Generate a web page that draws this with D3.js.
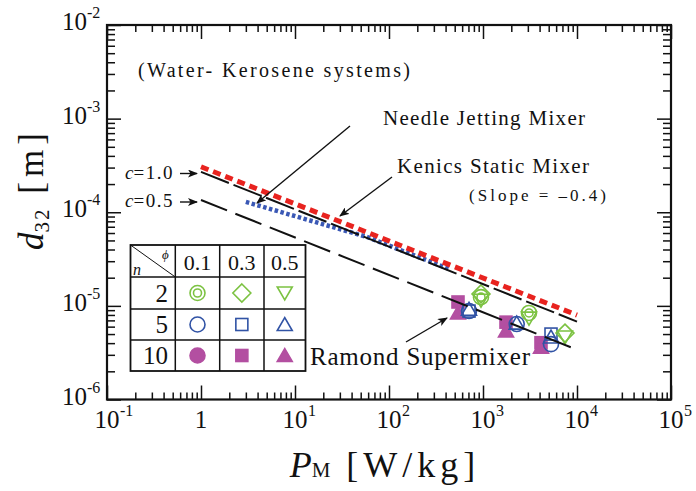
<!DOCTYPE html>
<html>
<head>
<meta charset="utf-8">
<script src="https://cdn.jsdelivr.net/npm/d3@7"></script>
<style>
  body { margin: 0; background: #fff; }
  svg text { font-family: "Liberation Serif", "Times New Roman", serif; fill: #111; }
</style>
</head>
<body>
<svg id="chart"></svg>
<script>
// ---- data ----
const nValues = [2, 5, 10];
const phiValues = ["0.1", "0.3", "0.5"];

// power input of each of the three runs, per number of elements n [W/kg]
const pN2 = [952, 3086, 7450];
const pN5 = [710, 2284, 5290];
const pN10 = [542, 1757, 4140];

// Sauter mean diameter d32 [m] for each run (null = hidden under other marks)
const dN2Phi01 = [1.24e-5, 8.4e-6, null];
const dN2Phi03 = [1.34e-5, null, 5.12e-6];
const dN2Phi05 = [1.15e-5, 7.4e-6, 4.65e-6];
const dN5Phi01 = [8.8e-6, 6.4e-6, 3.9e-6];
const dN5Phi03 = [8.8e-6, null, 5.0e-6];
const dN5Phi05 = [9.2e-6, 6.55e-6, 4.65e-6];
const dN10Phi01 = [null, null, null];
const dN10Phi03 = [1.10e-5, 6.7e-6, 4.04e-6];
const dN10Phi05 = [8.4e-6, 5.4e-6, 3.63e-6];

// correlation lines (slope -0.4)
const lineC10 = [[1, 2.7e-4], [1e4, 6.8e-6]];
const lineC05 = [[1, 1.35e-4], [1e4, 3.4e-6]];
const lineNeedle = [[1, 3.06e-4], [1e4, 7.98e-6]];
const lineKenics = [[3, 1.29e-4], [57.5, 5.47e-5], [450, 2.45e-5]];

// axis ticks
const xMajor = [0.1, 1, 10, 100, 1e3, 1e4, 1e5];
const xLabels = ["-1", "", "1", "2", "3", "4", "5"];
const yMajor = [1e-6, 1e-5, 1e-4, 1e-3, 1e-2];
const yLabels = ["-6", "-5", "-4", "-3", "-2"];

// ---- setup ----
const W = 696, H = 491;
const plot = { left: 107, right: 671, top: 25, bottom: 399.5 };
const colGreen = "#7cc242", colBlue = "#3153a5", colMag = "#b34fa1";

const svg = d3.select("#chart").attr("width", W).attr("height", H);

const x = d3.scaleLog().domain([0.1, 1e5]).range([plot.left, plot.right]);
const y = d3.scaleLog().domain([1e-6, 1e-2]).range([plot.bottom, plot.top]);

function minorTicks(major) {
    let out = [];
    for (let i = 0; i < major.length - 1; i++)
        for (let m = 2; m <= 9; m++) out.push(major[i] * m);
    return out;
}
const xMinor = minorTicks(xMajor), yMinor = minorTicks(yMajor);

// ---- ticks on all four sides, pointing inward ----
function addAxis(axisFn, scale, vals, len, transform) {
    const g = svg.append("g").attr("transform", transform)
        .call(axisFn(scale).tickValues(vals).tickSizeInner(len).tickSizeOuter(0).tickFormat(""));
    g.select(".domain").remove();
    g.selectAll("line").attr("stroke", "#111").attr("stroke-width", 1.5);
}
[[xMinor, -7], [xMajor, -14]].forEach(([v, l]) => {
    addAxis(d3.axisBottom, x, v, l, `translate(0,${plot.bottom})`);
    addAxis(d3.axisTop, x, v, l, `translate(0,${plot.top})`);
});
[[yMinor, -8], [yMajor, -14]].forEach(([v, l]) => {
    addAxis(d3.axisLeft, y, v, l, `translate(${plot.left},0)`);
    addAxis(d3.axisRight, y, v, l, `translate(${plot.right},0)`);
});

svg.append("rect")
    .attr("x", plot.left).attr("y", plot.top)
    .attr("width", plot.right - plot.left).attr("height", plot.bottom - plot.top)
    .attr("fill", "none").attr("stroke", "#111").attr("stroke-width", 2.2);

// tick labels
xMajor.forEach((v, i) => {
    svg.append("text").attr("x", x(v)).attr("y", 428)
        .attr("text-anchor", "middle").attr("font-size", 25)
        .text(xLabels[i] === "" ? "1" : "10");
    if (xLabels[i] !== "")
        svg.append("text").attr("x", x(v) + 13).attr("y", 416)
            .attr("font-size", 16).text(xLabels[i]);
});
yMajor.forEach((v, i) => {
    svg.append("text").attr("x", 87).attr("y", y(v) + 5)
        .attr("text-anchor", "end").attr("font-size", 25).text("10");
    svg.append("text").attr("x", 87).attr("y", y(v) - 7)
        .attr("font-size", 16).text(yLabels[i]);
});

// axis titles
const yt = svg.append("text").attr("transform", "translate(43,189) rotate(-90)")
    .attr("text-anchor", "middle").attr("font-size", 35);
yt.append("tspan").attr("font-style", "italic").text("d");
yt.append("tspan").attr("font-size", 21).attr("dy", 6).attr("letter-spacing", 2).text("32");
yt.append("tspan").attr("dy", -6).attr("letter-spacing", 5).text(" [m]");

const xt = svg.append("text").attr("x", 385).attr("y", 477)
    .attr("text-anchor", "middle").attr("font-size", 36);
xt.append("tspan").attr("font-style", "italic").text("P");
xt.append("tspan").attr("font-size", 21).attr("letter-spacing", 2).text("M");
xt.append("tspan").attr("letter-spacing", 5).text(" [W/kg]");

// ---- markers ----
function drawMarker(g, shape, cx, cy) {
    const sw = 1.6;
    if (shape === "dcircle") {
        g.append("circle").attr("cx", cx).attr("cy", cy).attr("r", 7.5)
            .attr("fill", "none").attr("stroke", colGreen).attr("stroke-width", sw);
        g.append("circle").attr("cx", cx).attr("cy", cy).attr("r", 4)
            .attr("fill", "none").attr("stroke", colGreen).attr("stroke-width", sw);
    } else if (shape === "diamond") {
        g.append("path").attr("d", `M${cx},${cy - 9}L${cx + 9},${cy}L${cx},${cy + 9}L${cx - 9},${cy}Z`)
            .attr("fill", "none").attr("stroke", colGreen).attr("stroke-width", sw);
    } else if (shape === "tdown") {
        g.append("path").attr("d", `M${cx - 7.5},${cy - 6}L${cx + 7.5},${cy - 6}L${cx},${cy + 7}Z`)
            .attr("fill", "none").attr("stroke", colGreen).attr("stroke-width", sw);
    } else if (shape === "circle" || shape === "fcircle") {
        const c = shape === "circle" ? colBlue : colMag;
        g.append("circle").attr("cx", cx).attr("cy", cy).attr("r", 7.5)
            .attr("fill", shape === "circle" ? "none" : c).attr("stroke", c).attr("stroke-width", sw);
    } else if (shape === "square" || shape === "fsquare") {
        const c = shape === "square" ? colBlue : colMag;
        g.append("rect").attr("x", cx - 6).attr("y", cy - 6).attr("width", 12).attr("height", 12)
            .attr("fill", shape === "square" ? "none" : c).attr("stroke", c).attr("stroke-width", sw);
    } else {
        const c = shape === "tup" ? colBlue : colMag;
        g.append("path").attr("d", `M${cx - 7.5},${cy + 6}L${cx + 7.5},${cy + 6}L${cx},${cy - 7}Z`)
            .attr("fill", shape === "tup" ? "none" : c).attr("stroke", c).attr("stroke-width", sw);
    }
}

const shapes = [["dcircle", "diamond", "tdown"], ["circle", "square", "tup"], ["fcircle", "fsquare", "ftri"]];
const pByN = [pN2, pN5, pN10];
const dByN = [[dN2Phi01, dN2Phi03, dN2Phi05], [dN5Phi01, dN5Phi03, dN5Phi05], [dN10Phi01, dN10Phi03, dN10Phi05]];

const pts = svg.append("g");
[2, 1, 0].forEach(ni => {
    dByN[ni].forEach((ds, pi) => {
        ds.forEach((d, k) => {
            if (d !== null) drawMarker(pts, shapes[ni][pi], x(pByN[ni][k]), y(d));
        });
    });
});

// ---- lines ----
const line = d3.line().x(d => x(d[0])).y(d => y(d[1]));
svg.append("path").datum(lineKenics).attr("d", line)
    .attr("fill", "none").attr("stroke", "#3a58b5").attr("stroke-width", 4.5).attr("stroke-dasharray", "3.5,2.5");
svg.append("path").datum(lineNeedle).attr("d", line)
    .attr("fill", "none").attr("stroke", "#e8231f").attr("stroke-width", 5).attr("stroke-dasharray", "8,5");
svg.append("path").datum(lineC10).attr("d", line)
    .attr("fill", "none").attr("stroke", "#111").attr("stroke-width", 2).attr("stroke-dasharray", "30,5");
svg.append("path").datum(lineC05).attr("d", line)
    .attr("fill", "none").attr("stroke", "#111").attr("stroke-width", 2).attr("stroke-dasharray", "28,9");

// ---- legend table ----
const tbl = { left: 130.5, top: 245, colX: [130.5, 175.3, 219.7, 264, 305.5], rowY: [245, 277, 309, 340, 371] };
const lg = svg.append("g");
lg.append("rect").attr("x", tbl.left).attr("y", tbl.top)
    .attr("width", tbl.colX[4] - tbl.left).attr("height", tbl.rowY[4] - tbl.top)
    .attr("fill", "#fff").attr("stroke", "#111").attr("stroke-width", 1.8);
tbl.colX.slice(1, 4).forEach(cx => lg.append("line").attr("x1", cx).attr("x2", cx)
    .attr("y1", tbl.top).attr("y2", tbl.rowY[4]).attr("stroke", "#111").attr("stroke-width", 1.5));
tbl.rowY.slice(1, 4).forEach(ry => lg.append("line").attr("y1", ry).attr("y2", ry)
    .attr("x1", tbl.left).attr("x2", tbl.colX[4]).attr("stroke", "#111").attr("stroke-width", 1.5));
lg.append("line").attr("x1", tbl.left).attr("y1", tbl.top).attr("x2", tbl.colX[1]).attr("y2", tbl.rowY[1])
    .attr("stroke", "#111").attr("stroke-width", 1);
lg.append("text").attr("x", 162).attr("y", 259).attr("font-size", 13).attr("font-style", "italic").text("ϕ");
lg.append("text").attr("x", 133).attr("y", 275).attr("font-size", 16).attr("font-style", "italic").text("n");

phiValues.forEach((p, j) => {
    lg.append("text").attr("x", (tbl.colX[j + 1] + tbl.colX[j + 2]) / 2).attr("y", 270)
        .attr("text-anchor", "middle").attr("font-size", 22).text(p);
});
nValues.forEach((n, i) => {
    const cy = (tbl.rowY[i + 1] + tbl.rowY[i + 2]) / 2;
    lg.append("text").attr("x", 168).attr("y", cy + 8.5)
        .attr("text-anchor", "end").attr("font-size", 25).text(n);
    shapes[i].forEach((s, j) => drawMarker(lg, s, (tbl.colX[j + 1] + tbl.colX[j + 2]) / 2, cy));
});

// ---- annotations ----
svg.append("defs").append("marker").attr("id", "arr")
    .attr("viewBox", "0 0 10 8").attr("refX", 9).attr("refY", 4)
    .attr("markerWidth", 10).attr("markerHeight", 8).attr("markerUnits", "userSpaceOnUse")
    .attr("orient", "auto")
    .append("path").attr("d", "M0,0L10,4L0,8L2.5,4Z").attr("fill", "#111");

function arrow(x1, y1, x2, y2) {
    svg.append("line").attr("x1", x1).attr("y1", y1).attr("x2", x2).attr("y2", y2)
        .attr("stroke", "#111").attr("stroke-width", 1.4).attr("marker-end", "url(#arr)");
}
arrow(350, 126, 257, 203);
arrow(392, 177, 340, 216);
arrow(406, 342, 447, 318);
arrow(180, 173.5, 197, 173.5);
arrow(180, 202, 197, 202);

function label(tx, ty, size, str, len) {
    svg.append("text").attr("x", tx).attr("y", ty).attr("font-size", size)
        .attr("textLength", len).attr("lengthAdjust", "spacing").text(str);
}
label(138, 77, 20, "(Water- Kerosene systems)", 272);
label(383, 125, 21, "Needle Jetting Mixer", 202);
label(397, 173, 21, "Kenics Static Mixer", 192);
label(469, 201, 17, "(Slope = \u20130.4)", 137);
label(310, 365, 25, "Ramond Supermixer", 220);

[["1.0", 178.5], ["0.5", 207]].forEach(([c, ty]) => {
    const t = svg.append("text").attr("x", 125).attr("y", ty).attr("font-size", 19);
    t.append("tspan").attr("font-style", "italic").text("c");
    t.append("tspan").attr("letter-spacing", 1.5).text("=" + c);
});
</script>
</body>
</html>
